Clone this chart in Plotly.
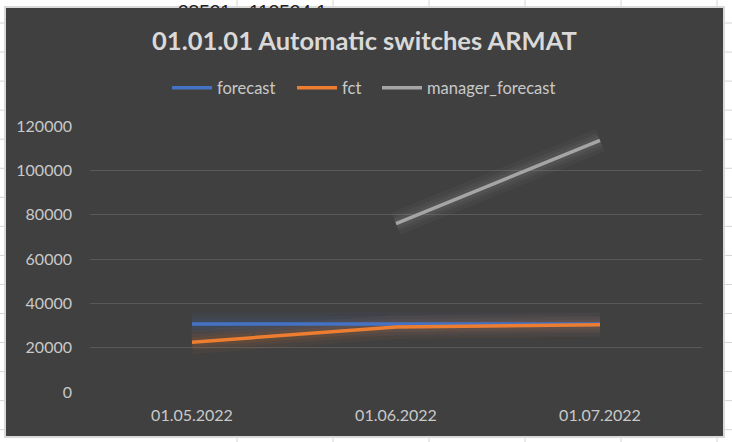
import plotly.graph_objects as go

# ---- data ----
categories = ["01.05.2022", "01.06.2022", "01.07.2022"]
forecast = [30700, 30700, 30700]
fct = [22500, 29300, 30300]
manager_forecast = [None, 76000, 113524.1]
y_ticks = [0, 20000, 40000, 60000, 80000, 100000, 120000]
title_text = "01.01.01 Automatic switches ARMAT"

W, H = 732, 442
ML, MR, MT, MB = 90, 30, 126, 50
PW, PH = W - ML - MR, H - MT - MB

def px(x):
    return (x - ML) / PW

def py(y):
    return (H - MB - y) / PH

BG = "#404040"
TXT = "#c9c9c9"
FONT = "Lato"

series = [
    ("forecast", forecast, "#4472C4", "legend", 173),
    ("fct", fct, "#ED7D31", "legend2", 298),
    ("manager_forecast", manager_forecast, "#A5A5A5", "legend3", 383),
]

fig = go.Figure()
# soft glow layers
for name, vals, col, lg, lx in series:
    for w, op in [(24, 0.05), (16, 0.06), (10, 0.08)]:
        fig.add_trace(go.Scatter(x=categories, y=vals, mode="lines",
                                 line=dict(color=col, width=w), opacity=op,
                                 showlegend=False, hoverinfo="skip"))
for name, vals, col, lg, lx in series:
    fig.add_trace(go.Scatter(x=categories, y=vals, mode="lines", name=name,
                             legend=lg, line=dict(color=col, width=3.5)))

shapes = []
grid = "#d4d4d4"
# spreadsheet cell lines
for cx in [237, 333, 429, 525, 621, 717]:
    shapes.append(dict(type="line", xref="paper", yref="paper",
                       x0=px(cx), x1=px(cx), y0=py(0), y1=py(H),
                       line=dict(color=grid, width=1), layer="below"))
ry = 23.0
while ry < H:
    shapes.append(dict(type="line", xref="paper", yref="paper",
                       x0=px(0), x1=px(W), y0=py(ry), y1=py(ry),
                       line=dict(color=grid, width=1), layer="below"))
    ry += 29.05
# chart box
shapes.append(dict(type="rect", xref="paper", yref="paper",
                   x0=px(5), x1=px(724), y0=py(437), y1=py(7),
                   fillcolor=BG, line=dict(color="#d9d9d9", width=2),
                   layer="below"))

legend_common = dict(orientation="h", yanchor="middle", xanchor="left",
                     font=dict(family=FONT, size=16.5, color=TXT),
                     bgcolor="rgba(0,0,0,0)", itemwidth=40)
legends = {}
for name, vals, col, lg, lx in series:
    legends[lg] = dict(legend_common, x=px(lx - 6), y=py(88))

fig.update_layout(
    width=W, height=H,
    margin=dict(l=ML, r=MR, t=MT, b=MB),
    paper_bgcolor="white",
    plot_bgcolor="rgba(0,0,0,0)",
    shapes=shapes,
    title=dict(text="<b>" + title_text + "</b>", x=364.5 / W, xanchor="center",
               y=1 - 41 / H, yanchor="middle",
               font=dict(family=FONT, size=25.5, color="#d9d9d9")),
    xaxis=dict(type="category", range=[-0.5, 2.5], showgrid=False,
               showline=False, zeroline=False, ticks="",
               ticklabelstandoff=12,
               tickfont=dict(family=FONT, size=16, color=TXT)),
    yaxis=dict(range=[0, 120000], tickvals=y_ticks,
               ticktext=[str(v) for v in y_ticks],
               showgrid=True, gridcolor="#595959", gridwidth=1.3,
               zeroline=False, showline=False, ticks="",
               ticklabelstandoff=17,
               tickfont=dict(family=FONT, size=16, color=TXT)),
    annotations=[
        dict(text="38521", xref="paper", yref="paper", x=px(232), y=py(0),
             xanchor="right", yanchor="top", showarrow=False, height=7,
             valign="top", borderpad=0,
             font=dict(family="Liberation Sans", size=19, color="#222222")),
        dict(text="113524.1", xref="paper", yref="paper", x=px(328), y=py(0),
             xanchor="right", yanchor="top", showarrow=False, height=7,
             valign="top", borderpad=0,
             font=dict(family="Liberation Sans", size=19, color="#222222")),
    ],
    **legends,
)

fig.write_html("out.html", config={"displayModeBar": False},
               post_script="document.body.style.margin='0';")
